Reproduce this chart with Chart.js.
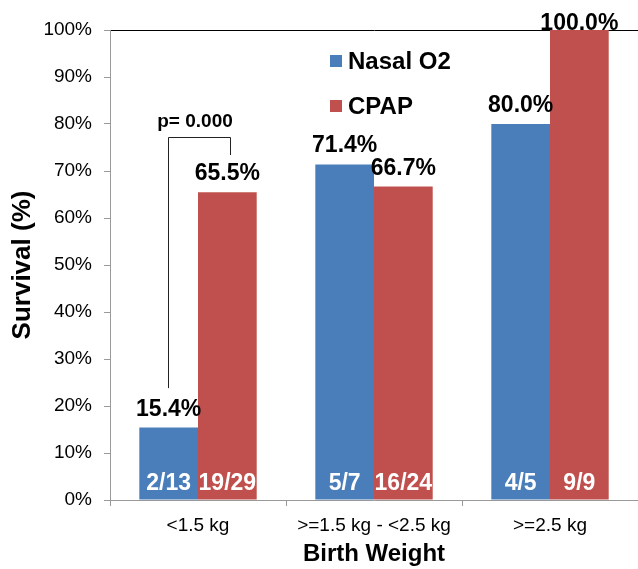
<!DOCTYPE html>
<html>
<head>
<meta charset="utf-8">
<script src="https://cdn.jsdelivr.net/npm/chart.js@4"></script>
<style>
html,body{margin:0;padding:0;background:#fff;}
#wrap{width:638px;height:569px;}
</style>
</head>
<body>
<div id="wrap"><canvas id="c" width="638" height="569"></canvas></div>
<script>
const categories = ['<1.5 kg', '>=1.5 kg - <2.5 kg', '>=2.5 kg'];
const nasalO2 = [15.4, 71.4, 80.0];
const cpap = [65.5, 66.7, 100.0];
const nasalCounts = ['2/13', '5/7', '4/5'];
const cpapCounts = ['19/29', '16/24', '9/9'];
const yTicks = [0, 10, 20, 30, 40, 50, 60, 70, 80, 90, 100];
const pLabel = 'p= 0.000';

const FONT = "'Liberation Sans', Arial, Helvetica, sans-serif";
const BLUE = '#4A7EBB';
const RED = '#C0504D';
const countLabels = [nasalCounts, cpapCounts];

const labelPlugin = {
  id: 'labels',
  afterDatasetsDraw(chart) {
    const ctx = chart.ctx;
    const area = chart.chartArea;
    ctx.save();
    chart.data.datasets.forEach((ds, di) => {
      const meta = chart.getDatasetMeta(di);
      meta.data.forEach((bar, i) => {
        ctx.font = 'bold 23px ' + FONT;
        ctx.fillStyle = '#000';
        ctx.textAlign = 'center';
        ctx.textBaseline = 'alphabetic';
        const yb = Math.max(bar.y - 12, area.top);
        ctx.fillText(ds.data[i].toFixed(1) + '%', bar.x, yb);
        ctx.font = 'bold 23px ' + FONT;
        ctx.fillStyle = '#fff';
        ctx.fillText(countLabels[di][i], bar.x, area.bottom - 10);
      });
    });
    const lx = area.left + 220;
    const lys = [area.top + 31, area.top + 76];
    chart.data.datasets.forEach((ds, di) => {
      ctx.fillStyle = ds.backgroundColor;
      ctx.fillRect(lx, lys[di] - 6, 12, 12);
      ctx.fillStyle = '#000';
      ctx.font = 'bold 24px ' + FONT;
      ctx.textAlign = 'left';
      ctx.textBaseline = 'middle';
      ctx.fillText(ds.label, lx + 18, lys[di] + 1);
    });
    const y = chart.scales.y;
    const b0 = chart.getDatasetMeta(0).data[0];
    const b1 = chart.getDatasetMeta(1).data[0];
    const yTop = y.getPixelForValue(77.3);
    ctx.strokeStyle = '#222';
    ctx.lineWidth = 1;
    ctx.beginPath();
    ctx.moveTo(Math.round(b0.x - 1) + 0.5, y.getPixelForValue(23.8));
    ctx.lineTo(Math.round(b0.x - 1) + 0.5, Math.round(yTop) + 0.5);
    ctx.lineTo(Math.round(b1.x + 3) + 0.5, Math.round(yTop) + 0.5);
    ctx.lineTo(Math.round(b1.x + 3) + 0.5, y.getPixelForValue(73.4));
    ctx.stroke();
    ctx.fillStyle = '#000';
    ctx.font = 'bold 19px ' + FONT;
    ctx.textAlign = 'center';
    ctx.textBaseline = 'alphabetic';
    ctx.fillText(pLabel, (b0.x + b1.x) / 2 - 3, yTop - 10);
    ctx.restore();
  }
};

new Chart(document.getElementById('c'), {
  type: 'bar',
  data: {
    labels: categories,
    datasets: [
      { label: 'Nasal O2', data: nasalO2, backgroundColor: BLUE },
      { label: 'CPAP', data: cpap, backgroundColor: RED }
    ]
  },
  options: {
    responsive: false,
    animation: false,
    layout: { padding: { top: 30, right: 0, left: 0, bottom: 0 } },
    datasets: { bar: { categoryPercentage: 0.667, barPercentage: 1.0 } },
    plugins: { legend: { display: false }, tooltip: { enabled: false } },
    scales: {
      x: {
        afterFit(s) { s.height = 69; },
        grid: { color: 'rgba(0,0,0,0)', tickColor: '#9a9a9a', tickLength: 6, drawOnChartArea: false, offset: true },
        border: { color: '#9a9a9a', width: 1 },
        ticks: { color: '#000', font: { family: FONT, size: 19 }, padding: 8 },
        title: { display: true, text: 'Birth Weight', color: '#000', font: { family: FONT, size: 24, weight: 'bold' }, padding: { top: 0, bottom: 0 } }
      },
      y: {
        min: 0, max: 100,
        afterFit(s) { s.width = 110; },
        afterBuildTicks(s) { s.ticks = yTicks.map(v => ({ value: v })); },
        grid: {
          color: (c) => (c.tick && c.tick.value === 100 ? '#000' : 'rgba(0,0,0,0)'),
          tickColor: '#9a9a9a', tickLength: 6
        },
        border: { color: '#9a9a9a', width: 1 },
        ticks: { color: '#000', font: { family: FONT, size: 19 }, padding: 12, callback: (v) => v + '%' },
        title: { display: true, text: 'Survival (%)', color: '#000', font: { family: FONT, size: 26, weight: 'bold' }, padding: { top: 7, bottom: 0 } }
      }
    }
  },
  plugins: [labelPlugin]
});
</script>
</body>
</html>
